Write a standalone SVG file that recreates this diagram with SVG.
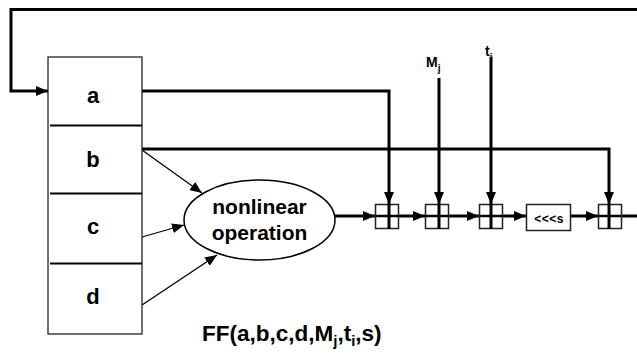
<svg xmlns="http://www.w3.org/2000/svg" width="637" height="361" viewBox="0 0 637 361">
<defs>
<marker id="ah" markerWidth="12" markerHeight="10" refX="12" refY="5" orient="auto" markerUnits="userSpaceOnUse"><path d="M0,0 L12,5 L0,10 Z" fill="#000"/></marker>
<marker id="ahs" markerWidth="12" markerHeight="10" refX="12" refY="5" orient="auto" markerUnits="userSpaceOnUse"><path d="M0,0 L12,5 L0,10 Z" fill="#000"/></marker>
</defs>
<style>
.t{font-family:"Liberation Sans",Arial,sans-serif;font-weight:bold;fill:#000}
.thick{stroke:#000;stroke-width:3;fill:none}
.thin{stroke:#000;stroke-width:1.3;fill:none}
.box{fill:#fff;stroke:#222;stroke-width:1.5}
</style>
<rect width="637" height="361" fill="#fff"/>
<g id="connectors">
<polyline class="thick" points="637,9.5 11,9.5 11,91 48,91" marker-end="url(#ah)"/>
<polyline class="thick" points="142,91 389,91 389,204" marker-end="url(#ah)"/>
<polyline class="thick" points="142,149 609,149 609,204" marker-end="url(#ah)"/>
<line class="thick" x1="439" y1="78" x2="439" y2="204" marker-end="url(#ah)"/>
<line class="thick" x1="491" y1="57" x2="491" y2="204" marker-end="url(#ah)"/>
<line class="thick" x1="335" y1="216" x2="375" y2="216" marker-end="url(#ah)"/>
<line class="thick" x1="399" y1="216" x2="425" y2="216" marker-end="url(#ah)"/>
<line class="thick" x1="449" y1="216" x2="479" y2="216" marker-end="url(#ah)"/>
<line class="thick" x1="503" y1="216" x2="526" y2="216" marker-end="url(#ah)"/>
<line class="thick" x1="571" y1="216" x2="598" y2="216" marker-end="url(#ah)"/>
<line class="thick" x1="621" y1="216" x2="637" y2="216"/>
<line class="thin" x1="142" y1="150" x2="202" y2="193" marker-end="url(#ahs)"/>
<line class="thin" x1="142" y1="237" x2="184" y2="225" marker-end="url(#ahs)"/>
<line class="thin" x1="142" y1="305" x2="217" y2="255" marker-end="url(#ahs)"/>
</g>
<g id="registers">
<rect x="48" y="57" width="94" height="277" fill="#fff" stroke="#222" stroke-width="1.3"/>
<line x1="50" y1="125.5" x2="142" y2="125.5" stroke="#000" stroke-width="2.2"/>
<line x1="50" y1="193.5" x2="142" y2="193.5" stroke="#000" stroke-width="2.2"/>
<line x1="50" y1="263.5" x2="142" y2="263.5" stroke="#000" stroke-width="2.2"/>
<text class="t" x="93" y="103" font-size="22" text-anchor="middle">a</text>
<text class="t" x="93" y="167" font-size="22" text-anchor="middle">b</text>
<text class="t" x="93" y="234" font-size="22" text-anchor="middle">c</text>
<text class="t" x="93" y="304" font-size="22" text-anchor="middle">d</text>
</g>
<g id="nonlinear">
<ellipse cx="259.5" cy="220" rx="75.5" ry="40" fill="#fff" stroke="#000" stroke-width="1.5"/>
<text class="t" x="259.5" y="214" font-size="21" text-anchor="middle">nonlinear</text>
<text class="t" x="259.5" y="240" font-size="21" text-anchor="middle">operation</text>
</g>
<g id="add1">
<rect class="box" x="375.5" y="204.5" width="23" height="24"/>
<line x1="389" y1="204" x2="389" y2="229" stroke="#000" stroke-width="3"/>
<line x1="376" y1="216" x2="398" y2="216" stroke="#000" stroke-width="2.5"/>
</g>
<g id="add2">
<rect class="box" x="425.5" y="204.5" width="23" height="24"/>
<line x1="439" y1="204" x2="439" y2="229" stroke="#000" stroke-width="3"/>
<line x1="426" y1="216" x2="448" y2="216" stroke="#000" stroke-width="2.5"/>
</g>
<g id="add3">
<rect class="box" x="479.5" y="204.5" width="23" height="24"/>
<line x1="491" y1="204" x2="491" y2="229" stroke="#000" stroke-width="3"/>
<line x1="480" y1="216" x2="502" y2="216" stroke="#000" stroke-width="2.5"/>
</g>
<g id="shift">
<rect class="box" x="526.5" y="204.5" width="44" height="26"/>
<text class="t" x="549" y="223" font-size="12" text-anchor="middle" letter-spacing="0.5">&lt;&lt;&lt;s</text>
</g>
<g id="add5">
<rect class="box" x="598.5" y="204.5" width="23" height="24"/>
<line x1="609" y1="204" x2="609" y2="229" stroke="#000" stroke-width="3"/>
<line x1="599" y1="216" x2="621" y2="216" stroke="#000" stroke-width="2.5"/>
</g>
<g id="labels">
<text class="t" x="426" y="67" font-size="14">M<tspan font-size="10" dy="5">j</tspan></text>
<text class="t" x="485" y="56" font-size="14">t<tspan font-size="10" dy="5">i</tspan></text>
<text class="t" x="202" y="341" font-size="22.5">FF(a,b,c,d,M<tspan font-size="15" dy="5">j</tspan><tspan dy="-5">,t</tspan><tspan font-size="15" dy="5">i</tspan><tspan dy="-5">,s)</tspan></text>
</g>
</svg>
